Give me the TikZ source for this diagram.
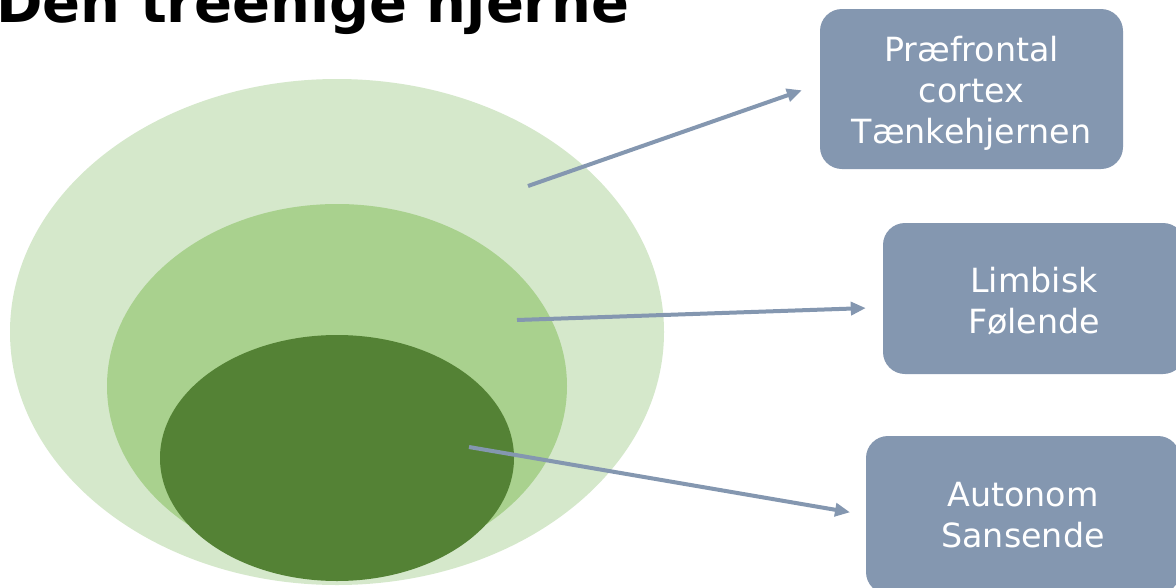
\documentclass[tikz,border=0pt]{standalone}
\usepackage{fontspec}
\setmainfont{DejaVu Sans}
\usetikzlibrary{arrows.meta}
\definecolor{boxc}{HTML}{8497B0}
\definecolor{glight}{HTML}{D5E8CB}
\definecolor{gmid}{HTML}{A9D18E}
\definecolor{gdark}{HTML}{548235}
\tikzset{
  box/.style={fill=boxc, rounded corners=22pt, inner sep=0pt},
  txt/.style={text=white, align=center, font=\fontsize{33.3}{41}\selectfont, inner sep=0pt},
  arr/.style={draw=boxc, line width=4pt, -{Triangle[length=15pt,width=13pt]}}
}
\begin{document}
\begin{tikzpicture}[x=1pt,y=-1pt]
\useasboundingbox (0,0) rectangle (1176,587);
\clip (0,0) rectangle (1176,587);
\fill[white] (0,0) rectangle (1176,587);
% ellipses
\fill[glight] (337,332) ellipse [x radius=327pt, y radius=253pt];
\fill[gmid] (337,386) ellipse [x radius=230pt, y radius=182pt];
\fill[gdark] (337,458) ellipse [x radius=177pt, y radius=123pt];
% title
\node[anchor=base west, inner sep=0pt, font=\fontsize{56}{60}\selectfont\bfseries] (title) at (-4,22) {Den treenige hjerne};
% boxes
\node[box, minimum width=303pt, minimum height=160pt] (p1) at (971.5,89) {};
\node[box, minimum width=302pt, minimum height=151pt] (p2) at (1034,298.5) {};
\node[box, minimum width=314pt, minimum height=158pt] (p3) at (1023,515) {};
\node[txt] (t1) at ([yshift=-4.5pt]p1.center) {Præfrontal\\cortex\\Tænkehjernen};
\node[txt] (t2) at ([yshift=-2.5pt]p2.center) {Limbisk\\Følende};
\node[txt] (t3) at ([yshift=0pt]p3.center) {Autonom\\Sansende};
% arrow starts
\coordinate (s1) at (528,186);
\coordinate (s2) at (517,320);
\coordinate (s3) at (469,447);
\draw[arr, shorten >=19pt] (s1) -- ([yshift=5pt]p1.west);
\draw[arr, shorten >=17pt] (s2) -- ([yshift=-9pt]p2.west);
\draw[arr, shorten >=16pt] (s3) -- (p3.west);
\end{tikzpicture}
\end{document}
